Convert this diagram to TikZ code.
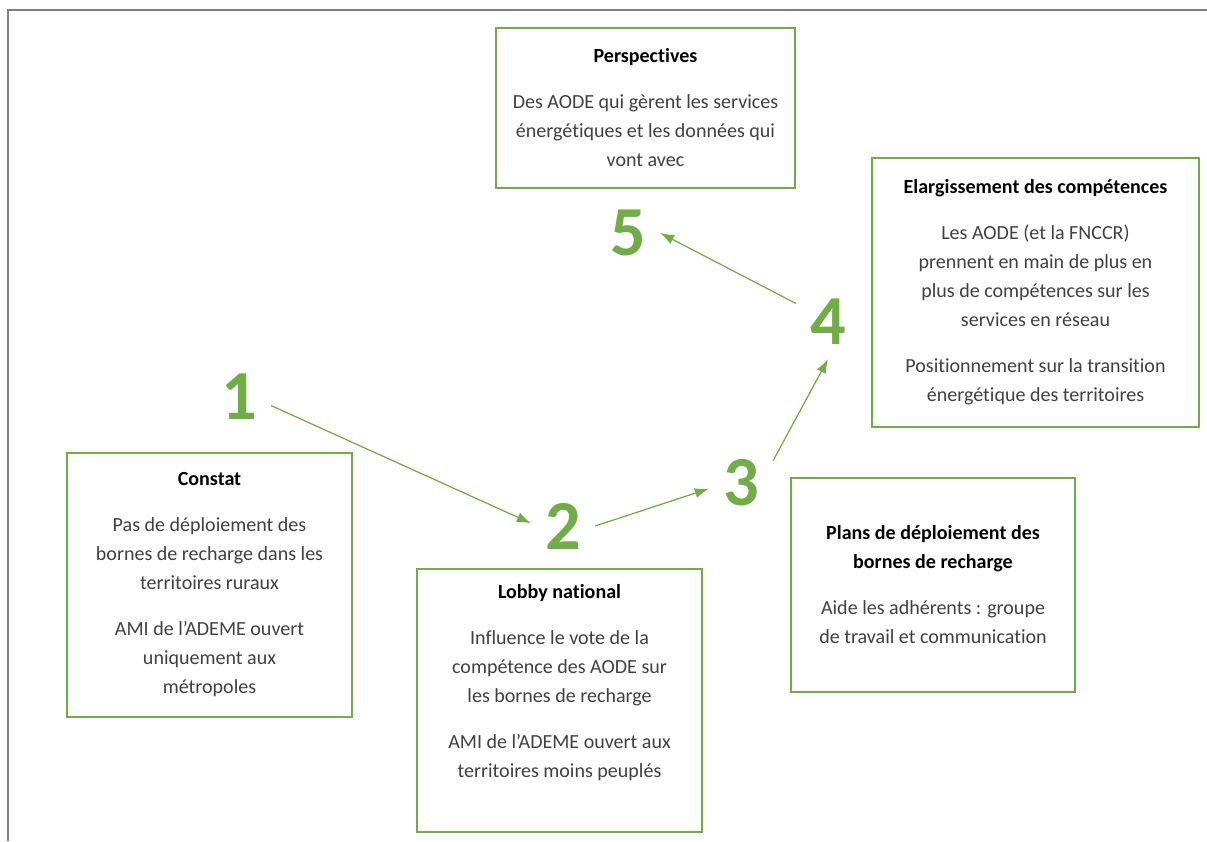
\documentclass[tikz,border=0pt]{standalone}
\usepackage{fontspec}
\setmainfont{Carlito}[Ligatures=NoCommon]
\usetikzlibrary{arrows.meta}
\definecolor{stepgreen}{RGB}{112,173,71}
\definecolor{steptext}{RGB}{64,64,64}
\definecolor{stepframe}{RGB}{128,128,128}
\newcommand{\boxhead}[1]{{\color{black}\bfseries #1}}

\begin{document}
\begin{tikzpicture}[
  panel/.style={rectangle,draw=stepgreen,line width=1.2pt,align=center,
    text=steptext,font=\fontsize{11.4}{16.5}\selectfont,inner sep=0pt},
  numeral/.style={text=stepgreen,font=\fontsize{40}{40}\selectfont\bfseries,inner sep=0.28cm},
  flow/.style={-{Latex[length=0.28cm,width=0.2cm]},stepgreen,line width=0.7pt}
]
\useasboundingbox (0,0) rectangle (24.14,16.82);
\draw[stepframe,line width=1.2pt] (0.16,0) |- (24.14,16.62);

\node[panel,minimum width=5.98cm,minimum height=3.2cm] (perspectives) at (12.91,14.66)
  {\boxhead{Perspectives}\\[0.34cm]Des AODE qui gèrent les services\\énergétiques et les données qui\\vont avec};
\node[panel,minimum width=6.54cm,minimum height=5.38cm] (elargissement) at (20.71,10.97)
  {\boxhead{Elargissement des compétences}\\[0.34cm]Les AODE (et la FNCCR)\\prennent en main de plus en\\plus de compétences sur les\\services en réseau\\[0.34cm]Positionnement sur la transition\\énergétique des territoires};
\node[panel,minimum width=5.7cm,minimum height=5.28cm] (constat) at (4.19,5.12)
  {\boxhead{Constat}\\[0.34cm]Pas de déploiement des\\bornes de recharge dans les\\territoires ruraux\\[0.34cm]AMI de l’ADEME ouvert\\uniquement aux\\métropoles};
\node[panel,minimum width=5.7cm,minimum height=5.26cm] (lobby) at (11.19,2.81)
  {\boxhead{Lobby national}\\[0.34cm]Influence le vote de la\\compétence des AODE sur\\les bornes de recharge\\[0.34cm]AMI de l’ADEME ouvert aux\\territoires moins peuplés\\[0.2cm]\mbox{}};
\node[panel,minimum width=5.68cm,minimum height=4.28cm] (plans) at (18.66,5.12)
  {\boxhead{Plans de déploiement des}\\\boxhead{bornes de recharge}\\[0.34cm]Aide les adhérents : groupe\\de travail et communication};

% step numbers
\node[numeral] (n1) at (4.78,8.88) {1};
\node[numeral] (n2) at (11.26,6.30) {2};
\node[numeral] (n3) at (14.82,7.16) {3};
\node[numeral] (n4) at (16.56,10.38) {4};
\node[numeral] (n5) at (12.56,12.16) {5};

\draw[flow] (n1.-15) -- (n2.175);
\draw[flow] (n2.east) -- (n3.190);
\draw[flow] (n3.35) -- (n4.south);
\draw[flow] (n4.150) -- (n5.east);
\end{tikzpicture}
\end{document}
